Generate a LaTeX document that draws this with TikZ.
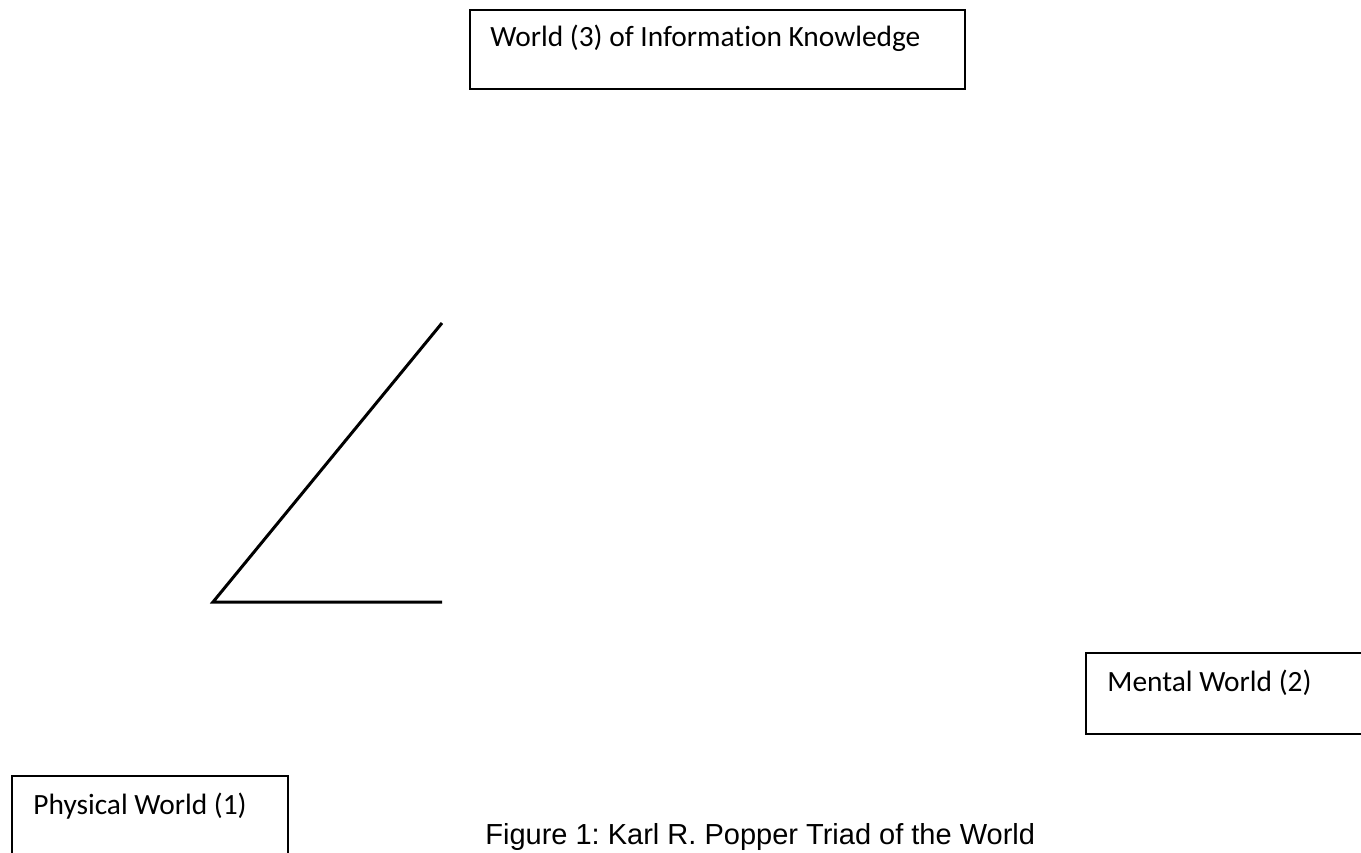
\documentclass[tikz,border=0pt]{standalone}
\usepackage{fontspec}
\setmainfont{Carlito}[Ligatures=NoCommon]
\newfontfamily\captionfont{Liberation Sans}
\usetikzlibrary{positioning}
\tikzset{
  worldbox/.style={draw, line width=1pt, anchor=north west, inner sep=0pt},
  worldtext/.style={font=\fontsize{14.7}{17}\selectfont, anchor=base west, inner sep=0pt},
}
\frenchspacing
\begin{document}
\begin{tikzpicture}[x=0.5pt,y=-0.5pt]
  \useasboundingbox (0,0) rectangle (1361,852);
  \clip (0,0) rectangle (1361,852);

  % Boxes of the three worlds
  \node[worldbox, minimum width=247.5pt, minimum height=39.5pt] (world3) at (469,9) {};
  \node[worldbox, minimum width=145pt, minimum height=40.5pt] (world2) at (1085,652) {};
  \node[worldbox, minimum width=138pt, minimum height=45pt] (world1) at (11,775) {};

  % Texts
  \node[worldtext] (world3text) at (490,46) {World (3) of Information Knowledge};
  \node[worldtext] (world2text) at (1107,691) {Mental World (2)};
  \node[worldtext] (world1text) at (33,814) {Physical World (1)};

  % Corner of the triad
  \coordinate (top) at (442,323);
  \coordinate (corner) at (213,602);
  \coordinate (right) at (442,602);
  \draw[line width=1.5pt] (top) -- (corner) -- (right);

  % Caption
  \node[anchor=base west, inner sep=0pt, font=\captionfont\fontsize{14.5}{17}\selectfont] (caption) at (485,844) {Figure 1: Karl R. Popper Triad of the World};
\end{tikzpicture}
\end{document}
